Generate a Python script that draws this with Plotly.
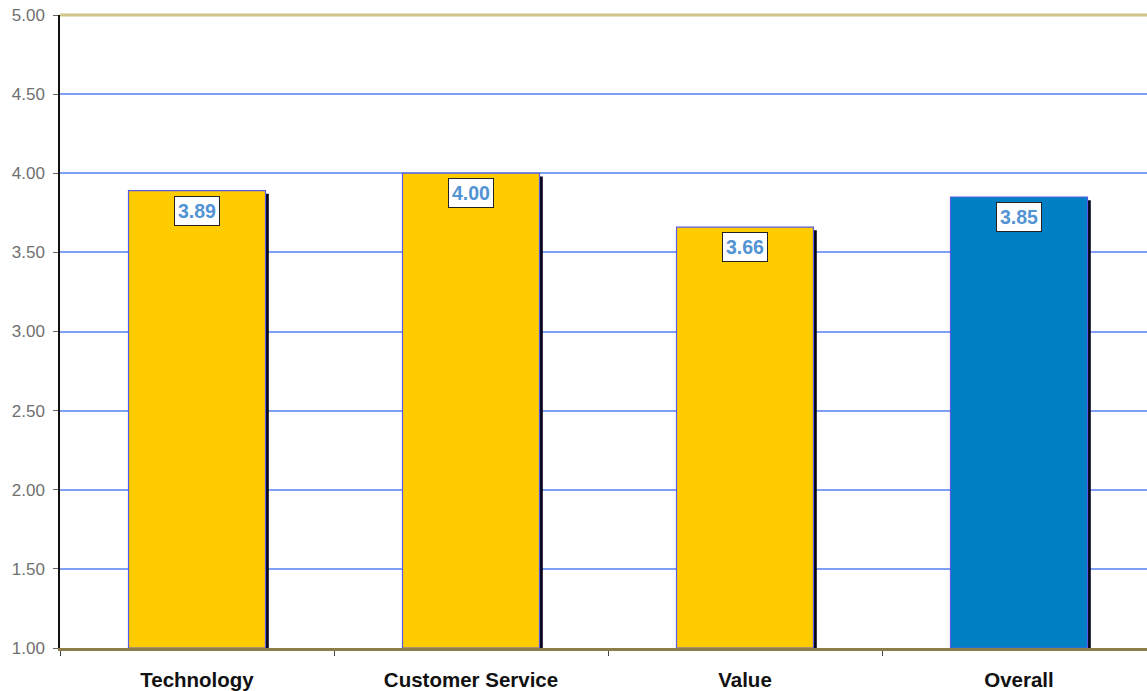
import plotly.graph_objects as go

categories = ["Technology", "Customer Service", "Value", "Overall"]
scores = [3.89, 4.00, 3.66, 3.85]
bar_colors = ["#FFCC00", "#FFCC00", "#FFCC00", "#0080C4"]
y_ticks = [1.0, 1.5, 2.0, 2.5, 3.0, 3.5, 4.0, 4.5, 5.0]

fig = go.Figure()

# drop shadow behind each bar
fig.add_trace(go.Bar(
    x=categories, y=[s - 1.0 - 0.02 for s in scores], base=1.0,
    width=0.5, offset=-0.25 + 0.012,
    marker=dict(color="#050518", line=dict(width=0)),
    hoverinfo="skip", showlegend=False,
))

fig.add_trace(go.Bar(
    x=categories, y=[s - 1.0 for s in scores], base=1.0, width=0.5, offset=-0.25,
    marker=dict(color=bar_colors, line=dict(color="#5a5ae6", width=1.2)),
    showlegend=False,
))

for c, s in zip(categories, scores):
    fig.add_annotation(
        x=c, y=s, xref="x", yref="y", text=f"<b>{s:.2f}</b>",
        showarrow=False, yanchor="top", yshift=-5,
        font=dict(family="Liberation Sans, Arial", size=19.5, color="#5293d4"),
        bgcolor="white", bordercolor="#222222", borderwidth=1, borderpad=3,
    )

# top border line of the plot area
fig.add_shape(type="line", xref="paper", yref="paper", x0=0, x1=1, y0=1, y1=1,
              line=dict(color="#d2c58a", width=3), layer="above")

fig.update_layout(
    width=1147, height=691,
    margin=dict(l=60, r=0, t=15, b=43),
    paper_bgcolor="white", plot_bgcolor="white",
    barmode="overlay",
    font=dict(family="Liberation Sans, Arial", color="#000000"),
    xaxis=dict(
        type="category", categoryorder="array", categoryarray=categories,
        range=[-0.5, 3.5 - 9 / 274],
        ticktext=[f"<b>{c}</b>" for c in categories], tickvals=categories,
        tickfont=dict(size=20.5, color="#111111"),
        showgrid=False, zeroline=False, automargin=False,
        showline=True, linecolor="#8c7d4a", linewidth=3,
        ticks="outside", tickson="boundaries", ticklen=5, tickcolor="#444444",
        ticklabelstandoff=11,
    ),
    yaxis=dict(
        range=[1.0, 5.0], tickvals=y_ticks, ticktext=[f"{v:.2f}" for v in y_ticks],
        tickfont=dict(size=17, color="#707070"), automargin=False,
        showgrid=True, gridcolor="#7f9ff5", gridwidth=1.5,
        zeroline=False, showline=True, linecolor="#111111", linewidth=1.5,
        ticks="outside", ticklen=5, tickcolor="#666666",
        ticklabelstandoff=5,
    ),
)

fig.write_html("out.html")
